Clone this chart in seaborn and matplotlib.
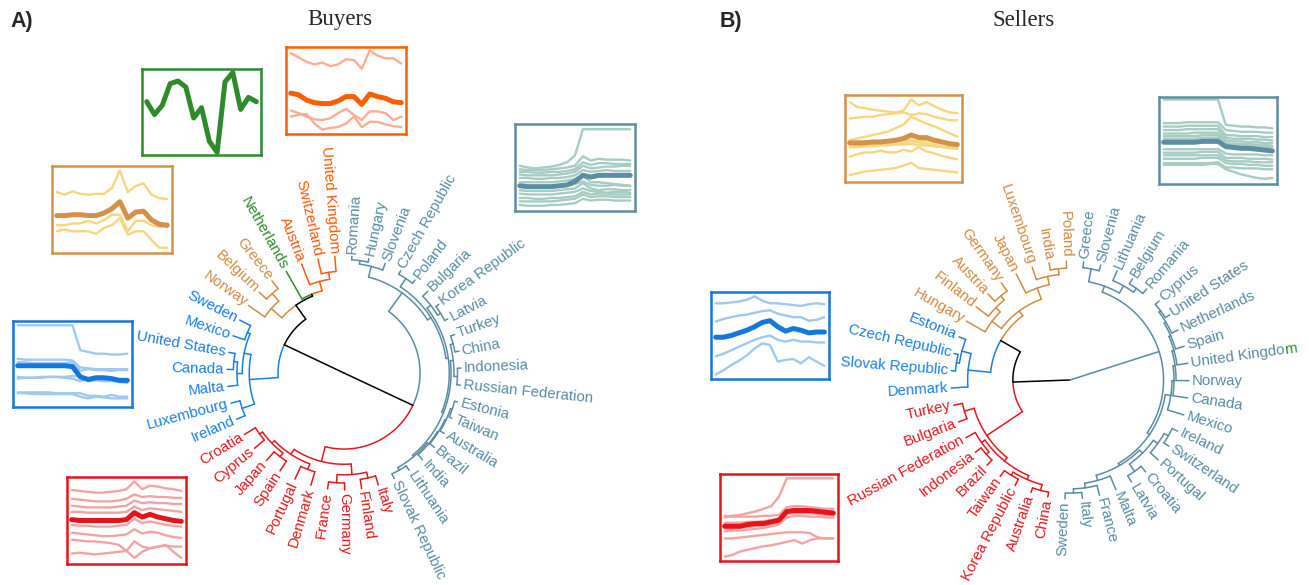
import numpy as np
import pandas as pd
import matplotlib.pyplot as plt
import seaborn as sns
from matplotlib.font_manager import FontProperties

sns.set_theme(style="white")
plt.rcParams["font.family"] = ["Liberation Sans", "DejaVu Sans"]

W, H = 1309, 585

GREY, ORANGE, GREEN, TAN, BLUE, RED = "#5b8ca1", "#ff5a0a", "#2e8b2b", "#d18b45", "#1b7fe3", "#e51820"

# ---------------- A) Buyers: clusters in angular order ----------------
A_red = ["Croatia", "Cyprus", "Japan", "Spain", "Portugal", "Denmark", "France", "Germany", "Finland", "Italy"]
A_grey = ["Slovak Republic", "Lithuania", "India", "Brazil", "Australia", "Taiwan", "Estonia",
          "Russian Federation", "Indonesia", "China", "Turkey", "Latvia", "Korea Republic", "Bulgaria",
          "Poland", "Czech Republic", "Slovenia", "Hungary", "Romania"]
A_orange = ["United Kingdom", "Switzerland", "Austria"]
A_green = ["Netherlands"]
A_tan = ["Greece", "Belgium", "Norway"]
A_blue = ["Sweden", "Mexico", "United States", "Canada", "Malta", "Luxembourg", "Ireland"]

# merge heights (1 = root in the centre, 0 = leaves)
A_slibate = [0.07, [0.045, "Slovak Republic", "Lithuania"],
             [0.057, "India", [0.049, "Brazil", [0.04, "Australia", [0.025, "Taiwan", "Estonia"]]]]]
A_rict = [0.06, [0.03, "Russian Federation", "Indonesia"], [0.035, "China", "Turkey"]]
A_lkb = [0.06, [0.03, "Latvia", "Korea Republic"], "Bulgaria"]
A_tree = [1.0,
          [0.436,
           [0.19, [0.13, [0.105, "Sweden", "Mexico"], [0.085, [0.054, "United States", "Canada"], "Malta"]],
            [0.079, "Luxembourg", "Ireland"]],
           [0.29, [0.17, [0.085, "Greece", "Belgium"], "Norway"],
            [0.273, "Netherlands", [0.19, "Austria", [0.13, "Switzerland", "United Kingdom"]]]]],
          [0.35,
           [0.22, [0.17, [0.14, [0.11, "Croatia", "Cyprus"], [0.10, "Japan", "Spain"]], [0.12, "Portugal", "Denmark"]],
            [0.13, [0.06, "France", "Germany"], [0.08, "Finland", "Italy"]]],
           [0.154, [0.12, [0.10, [0.085, A_slibate, A_rict], A_lkb], [0.035, "Poland", "Czech Republic"]],
            [0.06, "Slovenia", [0.03, "Hungary", "Romania"]]]]]

# ---------------- B) Sellers ----------------
B_grey = ["Sweden", "Italy", "France", "Malta", "Latvia", "Croatia", "Portugal", "Switzerland", "Ireland",
          "Mexico", "Canada", "Norway", "United Kingdom", "Spain", "Netherlands", "United States", "Cyprus",
          "Romania", "Belgium", "Lithuania", "Slovenia", "Greece"]
B_tan = ["Poland", "India", "Luxembourg", "Japan", "Germany", "Austria", "Finland", "Hungary"]
B_blue = ["Estonia", "Czech Republic", "Slovak Republic", "Denmark"]
B_red = ["Turkey", "Bulgaria", "Russian Federation", "Indonesia", "Brazil", "Taiwan", "Korea Republic",
         "Australia", "China"]

B_tree = [1.0,
          [0.52,
           [0.33,
            [0.28, [0.18, [0.13, "Finland", [0.085, "Austria", "Germany"]], "Hungary"],
             [0.18, "Japan", [0.11, "Luxembourg", [0.06, "India", "Poland"]]]],
            [0.14, [0.06, "Estonia", [0.035, "Czech Republic", "Slovak Republic"]], "Denmark"]],
           [0.16, [0.075, "Turkey", "Bulgaria"],
            [0.125, [0.09, "Russian Federation", [0.06, "Indonesia", "Brazil"]],
             [0.09, [0.06, "Taiwan", "Korea Republic"], [0.04, "Australia", "China"]]]]],
          [0.214,
           [0.16, [0.05, "Greece", "Slovenia"], [0.09, "Lithuania", [0.05, "Belgium", "Romania"]]],
           [0.19,
            [0.17, [0.125, [0.085, [0.05, "Sweden", "Italy"], "France"], "Malta"],
             [0.135, [0.06, "Latvia", "Croatia"], [0.09, "Portugal", [0.05, "Switzerland", "Ireland"]]]],
            [0.143, "Mexico", [0.126, "Canada", [0.109, "Norway", [0.092, "United Kingdom",
             [0.076, "Spain", [0.059, "Netherlands", [0.042, "United States", "Cyprus"]]]]]]]]]]
B_tail = {"United Kingdom": GREEN}   # last letter drawn in another colour

# ---------------- inset series (share of inset height, 15 points) ----------------
A_green_mean = [0.62, 0.47, 0.58, 0.83, 0.86, 0.79, 0.43, 0.55, 0.16, 0.03, 0.85, 0.96, 0.53, 0.67, 0.62]

A_orange_lines = [
    [0.93, 0.88, 0.83, 0.80, 0.82, 0.78, 0.80, 0.86, 0.85, 0.75, 0.96, 0.90, 0.87, 0.87, 0.81],
    [0.27, 0.24, 0.20, 0.17, 0.16, 0.18, 0.24, 0.29, 0.22, 0.16, 0.26, 0.26, 0.24, 0.16, 0.20],
    [0.20, 0.22, 0.23, 0.12, 0.05, 0.07, 0.08, 0.12, 0.20, 0.08, 0.14, 0.14, 0.11, 0.09, 0.08]]
A_orange_mean = [0.47, 0.45, 0.39, 0.36, 0.35, 0.35, 0.38, 0.43, 0.43, 0.34, 0.46, 0.43, 0.41, 0.37, 0.36]

A_tan_lines = [
    [0.70, 0.67, 0.71, 0.68, 0.67, 0.68, 0.68, 0.75, 0.95, 0.70, 0.77, 0.80, 0.67, 0.63, 0.62],
    [0.32, 0.32, 0.34, 0.34, 0.37, 0.34, 0.38, 0.44, 0.44, 0.25, 0.37, 0.37, 0.32, 0.30, 0.30],
    [0.25, 0.27, 0.25, 0.25, 0.25, 0.22, 0.29, 0.32, 0.40, 0.21, 0.25, 0.25, 0.15, 0.06, 0.06]]
A_tan_mean = [0.43, 0.43, 0.44, 0.44, 0.43, 0.43, 0.46, 0.51, 0.59, 0.40, 0.47, 0.48, 0.38, 0.33, 0.32]

A_grey_lines = [
    [0.52, 0.50, 0.49, 0.50, 0.51, 0.53, 0.56, 0.64, 0.94, 0.94, 0.94, 0.94, 0.94, 0.94, 0.94],
    [0.48, 0.47, 0.47, 0.47, 0.48, 0.49, 0.50, 0.52, 0.63, 0.58, 0.60, 0.59, 0.59, 0.59, 0.58],
    [0.45, 0.45, 0.44, 0.44, 0.45, 0.45, 0.46, 0.48, 0.56, 0.53, 0.55, 0.55, 0.54, 0.54, 0.54],
    [0.42, 0.41, 0.41, 0.41, 0.41, 0.42, 0.43, 0.45, 0.52, 0.49, 0.50, 0.51, 0.51, 0.52, 0.52],
    [0.38, 0.38, 0.37, 0.37, 0.38, 0.38, 0.39, 0.41, 0.47, 0.45, 0.46, 0.47, 0.46, 0.46, 0.46],
    [0.33, 0.33, 0.33, 0.33, 0.33, 0.34, 0.35, 0.37, 0.41, 0.33, 0.33, 0.32, 0.31, 0.30, 0.29],
    [0.28, 0.28, 0.28, 0.28, 0.28, 0.28, 0.29, 0.31, 0.34, 0.30, 0.29, 0.29, 0.30, 0.29, 0.29],
    [0.24, 0.23, 0.23, 0.23, 0.23, 0.24, 0.25, 0.26, 0.32, 0.26, 0.24, 0.25, 0.25, 0.24, 0.24],
    [0.20, 0.19, 0.19, 0.19, 0.19, 0.20, 0.21, 0.22, 0.26, 0.23, 0.22, 0.21, 0.22, 0.22, 0.21],
    [0.15, 0.15, 0.14, 0.14, 0.15, 0.15, 0.16, 0.17, 0.22, 0.19, 0.20, 0.20, 0.19, 0.19, 0.19],
    [0.11, 0.11, 0.11, 0.11, 0.11, 0.12, 0.13, 0.14, 0.19, 0.16, 0.17, 0.17, 0.16, 0.16, 0.16],
    [0.07, 0.06, 0.06, 0.06, 0.07, 0.07, 0.08, 0.09, 0.14, 0.12, 0.13, 0.13, 0.12, 0.12, 0.12]]
A_grey_mean = [0.29, 0.28, 0.28, 0.28, 0.28, 0.29, 0.30, 0.34, 0.41, 0.39, 0.41, 0.41, 0.41, 0.41, 0.41]

A_blue_lines = [
    [0.95, 0.95, 0.95, 0.95, 0.95, 0.95, 0.95, 0.95, 0.66, 0.64, 0.62, 0.62, 0.61, 0.61, 0.62],
    [0.56, 0.55, 0.55, 0.55, 0.55, 0.55, 0.55, 0.54, 0.46, 0.45, 0.44, 0.44, 0.44, 0.44, 0.44],
    [0.52, 0.52, 0.51, 0.51, 0.51, 0.51, 0.51, 0.52, 0.42, 0.44, 0.43, 0.43, 0.42, 0.43, 0.43],
    [0.35, 0.34, 0.34, 0.34, 0.35, 0.35, 0.35, 0.36, 0.36, 0.30, 0.31, 0.30, 0.30, 0.29, 0.28],
    [0.33, 0.34, 0.34, 0.35, 0.35, 0.35, 0.34, 0.33, 0.30, 0.33, 0.32, 0.31, 0.31, 0.31, 0.30],
    [0.16, 0.16, 0.15, 0.15, 0.15, 0.15, 0.15, 0.15, 0.12, 0.10, 0.12, 0.11, 0.10, 0.10, 0.10],
    [0.17, 0.17, 0.17, 0.17, 0.17, 0.16, 0.16, 0.16, 0.16, 0.13, 0.13, 0.12, 0.14, 0.12, 0.12]]
A_blue_mean = [0.48, 0.48, 0.48, 0.48, 0.48, 0.48, 0.48, 0.47, 0.35, 0.32, 0.34, 0.34, 0.33, 0.31, 0.31]

A_red_lines = [
    [0.85, 0.84, 0.83, 0.82, 0.82, 0.83, 0.84, 0.86, 0.95, 0.86, 0.90, 0.89, 0.87, 0.86, 0.84],
    [0.75, 0.74, 0.73, 0.72, 0.72, 0.72, 0.73, 0.75, 0.80, 0.77, 0.78, 0.77, 0.77, 0.76, 0.76],
    [0.67, 0.66, 0.65, 0.65, 0.65, 0.65, 0.66, 0.67, 0.73, 0.70, 0.71, 0.70, 0.70, 0.69, 0.69],
    [0.60, 0.60, 0.59, 0.59, 0.59, 0.59, 0.59, 0.60, 0.66, 0.62, 0.64, 0.63, 0.62, 0.61, 0.60],
    [0.45, 0.44, 0.44, 0.43, 0.43, 0.43, 0.44, 0.45, 0.52, 0.47, 0.49, 0.47, 0.45, 0.44, 0.43],
    [0.36, 0.35, 0.34, 0.33, 0.32, 0.32, 0.33, 0.34, 0.40, 0.35, 0.37, 0.36, 0.33, 0.31, 0.30],
    [0.28, 0.27, 0.26, 0.26, 0.25, 0.24, 0.22, 0.15, 0.07, 0.14, 0.18, 0.20, 0.21, 0.20, 0.20],
    [0.12, 0.13, 0.12, 0.11, 0.12, 0.13, 0.14, 0.15, 0.26, 0.20, 0.18, 0.20, 0.22, 0.14, 0.07]]
A_red_mean = [0.51, 0.50, 0.50, 0.50, 0.50, 0.50, 0.50, 0.51, 0.59, 0.54, 0.57, 0.54, 0.52, 0.50, 0.49]

B_tan_lines = [
    [0.92, 0.86, 0.85, 0.83, 0.82, 0.81, 0.80, 0.82, 0.95, 0.88, 0.92, 0.87, 0.83, 0.80, 0.79],
    [0.73, 0.74, 0.75, 0.75, 0.77, 0.78, 0.79, 0.80, 0.77, 0.79, 0.78, 0.75, 0.73, 0.71, 0.71],
    [0.48, 0.50, 0.52, 0.54, 0.56, 0.58, 0.62, 0.66, 0.75, 0.71, 0.67, 0.64, 0.60, 0.56, 0.52],
    [0.46, 0.46, 0.46, 0.46, 0.47, 0.47, 0.47, 0.48, 0.48, 0.47, 0.47, 0.46, 0.45, 0.44, 0.43],
    [0.43, 0.42, 0.43, 0.43, 0.43, 0.44, 0.44, 0.45, 0.47, 0.45, 0.44, 0.43, 0.41, 0.40, 0.40],
    [0.40, 0.40, 0.41, 0.41, 0.42, 0.42, 0.43, 0.43, 0.44, 0.42, 0.42, 0.41, 0.40, 0.39, 0.38],
    [0.29, 0.32, 0.34, 0.34, 0.36, 0.34, 0.34, 0.37, 0.35, 0.40, 0.35, 0.33, 0.30, 0.28, 0.26],
    [0.08, 0.10, 0.12, 0.13, 0.14, 0.15, 0.16, 0.19, 0.22, 0.16, 0.15, 0.14, 0.13, 0.12, 0.11]]
B_tan_mean = [0.45, 0.45, 0.45, 0.46, 0.46, 0.47, 0.48, 0.50, 0.54, 0.51, 0.51, 0.48, 0.46, 0.44, 0.43]

B_grey_lines = [
    [0.97, 0.97, 0.97, 0.97, 0.97, 0.97, 0.97, 0.97, 0.68, 0.67, 0.66, 0.66, 0.65, 0.65, 0.64],
    [0.70, 0.70, 0.70, 0.71, 0.71, 0.71, 0.71, 0.71, 0.62, 0.61, 0.60, 0.60, 0.60, 0.59, 0.59],
    [0.66, 0.66, 0.66, 0.67, 0.67, 0.67, 0.67, 0.67, 0.56, 0.56, 0.55, 0.55, 0.55, 0.54, 0.54],
    [0.62, 0.62, 0.62, 0.63, 0.63, 0.63, 0.63, 0.63, 0.53, 0.52, 0.52, 0.52, 0.51, 0.51, 0.50],
    [0.58, 0.58, 0.58, 0.58, 0.59, 0.59, 0.59, 0.59, 0.50, 0.49, 0.49, 0.48, 0.48, 0.47, 0.47],
    [0.55, 0.55, 0.55, 0.55, 0.55, 0.56, 0.56, 0.56, 0.47, 0.46, 0.46, 0.46, 0.45, 0.45, 0.44],
    [0.52, 0.52, 0.52, 0.52, 0.52, 0.53, 0.53, 0.53, 0.45, 0.44, 0.44, 0.44, 0.43, 0.43, 0.42],
    [0.40, 0.40, 0.40, 0.40, 0.40, 0.40, 0.40, 0.40, 0.35, 0.34, 0.34, 0.34, 0.34, 0.33, 0.33],
    [0.36, 0.36, 0.36, 0.36, 0.36, 0.37, 0.37, 0.37, 0.30, 0.30, 0.30, 0.29, 0.29, 0.29, 0.28],
    [0.33, 0.33, 0.33, 0.33, 0.33, 0.33, 0.33, 0.33, 0.27, 0.26, 0.26, 0.26, 0.25, 0.25, 0.25],
    [0.29, 0.29, 0.29, 0.29, 0.29, 0.30, 0.30, 0.30, 0.24, 0.23, 0.23, 0.22, 0.22, 0.21, 0.21],
    [0.24, 0.24, 0.24, 0.24, 0.24, 0.24, 0.24, 0.25, 0.19, 0.19, 0.18, 0.18, 0.18, 0.17, 0.17],
    [0.22, 0.22, 0.22, 0.22, 0.22, 0.22, 0.23, 0.23, 0.17, 0.14, 0.11, 0.09, 0.07, 0.06, 0.07]]
B_grey_mean = [0.48, 0.48, 0.48, 0.48, 0.48, 0.49, 0.49, 0.49, 0.43, 0.42, 0.41, 0.41, 0.40, 0.39, 0.38]

B_blue_lines = [
    [0.87, 0.87, 0.88, 0.89, 0.91, 0.95, 0.90, 0.87, 0.87, 0.86, 0.85, 0.84, 0.86, 0.87, 0.86],
    [0.66, 0.69, 0.71, 0.73, 0.74, 0.76, 0.78, 0.79, 0.75, 0.73, 0.71, 0.71, 0.67, 0.68, 0.71],
    [0.26, 0.29, 0.33, 0.37, 0.41, 0.45, 0.48, 0.50, 0.45, 0.43, 0.45, 0.43, 0.43, 0.42, 0.42],
    [0.05, 0.10, 0.16, 0.21, 0.27, 0.35, 0.41, 0.39, 0.20, 0.22, 0.23, 0.18, 0.25, 0.20, 0.15]]
B_blue_mean = [0.48, 0.48, 0.50, 0.53, 0.56, 0.60, 0.65, 0.67, 0.60, 0.55, 0.58, 0.56, 0.53, 0.54, 0.54]

B_red_lines = [
    [0.50, 0.52, 0.53, 0.55, 0.57, 0.60, 0.63, 0.74, 0.95, 0.95, 0.95, 0.95, 0.95, 0.95, 0.95],
    [0.52, 0.51, 0.51, 0.51, 0.51, 0.52, 0.52, 0.53, 0.62, 0.63, 0.63, 0.62, 0.61, 0.60, 0.60],
    [0.44, 0.44, 0.44, 0.45, 0.45, 0.46, 0.47, 0.49, 0.58, 0.60, 0.60, 0.60, 0.59, 0.58, 0.57],
    [0.37, 0.37, 0.38, 0.39, 0.40, 0.41, 0.42, 0.44, 0.54, 0.55, 0.55, 0.55, 0.54, 0.53, 0.52],
    [0.34, 0.35, 0.35, 0.36, 0.37, 0.38, 0.40, 0.42, 0.50, 0.52, 0.52, 0.51, 0.51, 0.50, 0.50],
    [0.26, 0.26, 0.27, 0.28, 0.29, 0.30, 0.31, 0.32, 0.33, 0.33, 0.33, 0.32, 0.27, 0.26, 0.26],
    [0.05, 0.07, 0.11, 0.13, 0.15, 0.17, 0.18, 0.20, 0.22, 0.24, 0.20, 0.24, 0.26, 0.26, 0.26]]
B_red_mean = [0.40, 0.40, 0.40, 0.42, 0.43, 0.43, 0.45, 0.47, 0.57, 0.58, 0.58, 0.58, 0.57, 0.56, 0.55]


fig = plt.figure(figsize=(W / 100, H / 100), dpi=100)
ax = fig.add_axes([0, 0, 1, 1])
ax.set_xlim(0, W)
ax.set_ylim(H, 0)
ax.axis("off")
renderer = fig.canvas.get_renderer()
LABEL_SIZE = 10.8
LABEL_FONT = FontProperties(family=["Liberation Sans", "DejaVu Sans"], size=LABEL_SIZE)


def arc(cx, cy, r, a0, a1, color):
    t = np.radians(np.linspace(a0, a1, int(abs(a1 - a0)) + 2))
    ax.plot(cx + r * np.cos(t), cy - r * np.sin(t), color=color, lw=1.1)


def draw_node(node, ang, col, cx, cy, R):
    if isinstance(node, str):
        return ang[node], 0.0, col[node]
    h = node[0]
    kids = [draw_node(k, ang, col, cx, cy, R) for k in node[1:]]
    a = (kids[0][0] + kids[-1][0]) / 2
    r = R * (1 - h)
    cols = {k[2] for k in kids}
    c = cols.pop() if len(cols) == 1 else "black"
    for ka, kh, kc in kids:
        rk = R * (1 - kh)
        t = np.radians(ka)
        ax.plot([cx + r * np.cos(t), cx + rk * np.cos(t)],
                [cy - r * np.sin(t), cy - rk * np.sin(t)], color=kc, lw=1.1)
        arc(cx, cy, r, a, ka, kc)
    return a, h, c


def draw_panel(tree, clusters, start, cx, cy, R, tails={}):
    order = [n for names, c in clusters for n in names]
    col = {n: c for names, c in clusters for n in names}
    step = 360 / len(order)
    ang = {n: start + i * step for i, n in enumerate(order)}
    draw_node(tree, ang, col, cx, cy, R)
    for n in order:
        a = ang[n] % 360
        t = np.radians(a)
        x, y = cx + (R + 3) * np.cos(t), cy - (R + 3) * np.sin(t)
        if 90 < a < 270:
            rot, ha = a - 180, "right"
        else:
            rot, ha = (a if a <= 90 else a - 360), "left"
        kw = dict(rotation=rot, ha=ha, va="center", rotation_mode="anchor", fontproperties=LABEL_FONT)
        if n in tails:
            # body in the cluster colour, last letter in the other colour right after it
            ax.text(x, y, n[:-1], color=col[n], zorder=3, **kw)
            w, hb, db = renderer.get_text_width_height_descent(n[:-1], LABEL_FONT, ismath=False)
            _, hl, dl = renderer.get_text_width_height_descent("lp", LABEL_FONT, ismath=False)
            hh, dd = max(hb, hl), max(db, dl)
            down = hh / 2 - dd
            rr = np.radians(rot)
            ax.text(x + w * np.cos(rr) + down * np.sin(rr), y - w * np.sin(rr) + down * np.cos(rr),
                    n[-1], color=tails[n], zorder=3, rotation=rot, ha="left", va="baseline",
                    rotation_mode="anchor", fontproperties=LABEL_FONT)
        else:
            ax.text(x, y, n, color=col[n], zorder=3, **kw)


draw_panel(A_tree, [(A_red, RED), (A_grey, GREY), (A_orange, ORANGE), (A_green, GREEN),
                    (A_tan, TAN), (A_blue, BLUE)], -148.3, 344, 373, 117)
draw_panel(B_tree, [(B_grey, GREY), (B_tan, TAN), (B_blue, BLUE), (B_red, RED)],
           -92.4, 1070, 380, 119, B_tail)

ax.text(340, 20, "Buyers", family="Liberation Serif", fontsize=16.5, ha="center", va="center")
ax.text(1024, 20, "Sellers", family="Liberation Serif", fontsize=16.5, ha="center", va="center")
ax.text(10, 22, "A)", fontweight="bold", fontsize=15.5, ha="left", va="center")
ax.text(720, 22, "B)", fontweight="bold", fontsize=15.5, ha="left", va="center")


def inset(box, lines, mean, light, dark):
    x0, y0, x1, y1 = box
    iax = fig.add_axes([x0 / W, 1 - y1 / H, (x1 - x0) / W, (y1 - y0) / H])
    if lines:
        df = pd.DataFrame([(i, t, v) for i, s in enumerate(lines) for t, v in enumerate(s)],
                          columns=["series", "t", "v"])
        sns.lineplot(data=df, x="t", y="v", units="series", estimator=None,
                     color=light, lw=1.7, ax=iax, legend=False)
    sns.lineplot(x=np.arange(len(mean)), y=mean, color=dark, lw=3.6, ax=iax)
    iax.set_xlim(-0.6, len(mean) - 0.4)
    iax.set_ylim(0, 1)
    iax.set_xticks([])
    iax.set_yticks([])
    iax.set(xlabel="", ylabel="")
    for s in iax.spines.values():
        s.set_visible(True)
        s.set_color(dark)
        s.set_linewidth(1.8)


inset((142, 69, 261, 155), [], A_green_mean, GREEN, "#2e8b2b")
inset((286, 47, 406, 134), A_orange_lines, A_orange_mean, "#ffad92", "#ff5e00")
inset((52, 166, 172, 253), A_tan_lines, A_tan_mean, "#f6d67f", "#d4914a")
inset((515, 124, 635, 211), A_grey_lines, A_grey_mean, "#a7ccc3", "#5e8da3")
inset((13, 321, 132, 407), A_blue_lines, A_blue_mean, "#a0c9f2", "#1477dc")
inset((67, 477, 186, 564), A_red_lines, A_red_mean, "#f2a4a4", "#e8121b")
inset((845, 95, 962, 182), B_tan_lines, B_tan_mean, "#f6d67f", "#d4914a")
inset((1159, 97, 1277, 184), B_grey_lines, B_grey_mean, "#a7ccc3", "#5e8da3")
inset((711, 292, 829, 379), B_blue_lines, B_blue_mean, "#a0c9f2", "#1477dc")
inset((720, 474, 838, 561), B_red_lines, B_red_mean, "#f2a4a4", "#e8121b")

fig.savefig("out.png", dpi=100)
